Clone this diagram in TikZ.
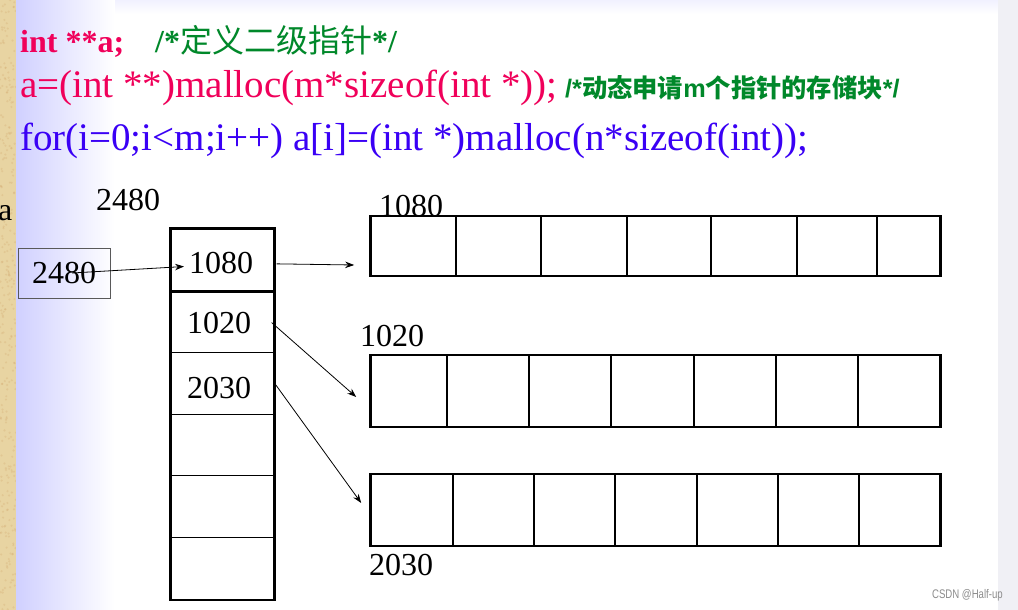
\documentclass[tikz,border=0pt]{standalone}
\usepackage{fontspec}
\setmainfont{Liberation Serif}
\setsansfont{Liberation Sans}
\newfontfamily\cjk{Noto Sans CJK SC}
\usetikzlibrary{arrows.meta,positioning}
\definecolor{codered}{HTML}{F0005A}
\definecolor{codegreen}{HTML}{00882A}
\definecolor{codeblue}{HTML}{3A00F5}
\definecolor{lav}{HTML}{D0D0FF}
\definecolor{sand}{HTML}{E8D4A2}
\definecolor{edgegray}{HTML}{F0F0F5}

\begin{document}
\begin{tikzpicture}[
  x=1pt, y=-1pt,
  >={Stealth[length=9pt,width=6.5pt]},
  code/.style={anchor=base west, inner sep=0pt, font=\fontsize{39}{39}\selectfont},
  note/.style={anchor=base west, inner sep=0pt, text=codegreen},
  num/.style={anchor=base west, inner sep=0pt, font=\fontsize{32}{32}\selectfont},
  colcell/.style={draw, line width=1.2pt, minimum width=103pt, minimum height=61.7pt, inner sep=0pt},
  row/.style={draw, line width=2.6pt, minimum width=570pt, inner sep=0pt},
  divider/.style={line width=1.2pt},
  ptr/.style={->, line width=0.8pt},
]
% background
\useasboundingbox (0,0) rectangle (1018,610);
\fill[white] (0,0) rectangle (1018,610);
\fill[sand] (0,0) rectangle (16,610);
\pgfmathsetseed{7}
\foreach \k in {1,...,300}
  \fill[brown!60!sand, opacity=0.25] ({rnd*16},{rnd*610}) circle (1.2pt);
\shade[left color=lav, right color=white] (16,0) rectangle (115,610);
\shade[top color=lav!30, bottom color=white] (115,0) rectangle (998,14);
\fill[edgegray] (998,0) rectangle (1018,610);

% code lines
\node[code, text=codered, font=\bfseries\fontsize{32}{32}\selectfont] (decl) at (20,53) {int **a;};
\node[note, font=\fontsize{32}{32}\selectfont] (note1) at (155,53)
  {\textbf{/*}{\cjk 定义二级指针}\textbf{*/}};
\node[code, text=codered] (alloc) at (20,97) {a=(int **)malloc(m*sizeof(int *));};
\node[note, font=\sffamily\bfseries\fontsize{25.3}{25.3}\selectfont] (note2) at (565,97)
  {/*{\cjk\bfseries 动态申请}m{\cjk\bfseries 个指针的存储块}*/};
\node[code, text=codeblue] (loop) at (20,150) {for(i=0;i<m;i++) a[i]=(int *)malloc(n*sizeof(int));};

% pointer a
\node[num] (lbla) at (-2,220) {a};
\node[num] (lbl2480) at (96,210) {2480};
\node[draw=black!65, line width=0.8pt, minimum width=92pt, minimum height=50pt, inner sep=0pt,
      font=\fontsize{32}{32}\selectfont] (pa) at (64,273) {2480};

% pointer column
\foreach \i in {1,...,6}
  \node[colcell] (c\i) at (222.5, {259.85+(\i-1)*61.7}) {};
\draw[line width=2.6pt] (c1.north west) rectangle (c6.south east);
\draw[line width=2.6pt] (c1.south west) -- (c1.south east);
\node[num] (v1) at (189,273) {1080};
\node[num] (v2) at (187,333) {1020};
\node[num] (v3) at (187,398) {2030};

% int rows
\node[row, minimum height=60pt] (r1) at (655.5,246) {};
\node[row, minimum height=72pt] (r2) at (655.5,391) {};
\node[row, minimum height=72pt] (r3) at (655.5,510) {};
\foreach \x in {456,541,627,711,797,877}
  \draw[divider] (\x,216) -- (\x,276);
\foreach \x in {447,529,611,694,776,858}
  \draw[divider] (\x,355) -- (\x,427);
\foreach \x in {453,534,615,697,778,859}
  \draw[divider] (\x,474) -- (\x,546);
\node[num] (h1) at (379,216) {1080};
\node[num] (h2) at (360,346) {1020};
\node[num] (h3) at (369,575) {2030};

% arrows
\draw[ptr] ([xshift=8pt]pa.center) -- ([xshift=-5pt,yshift=-4pt]v1.west);
\draw[ptr] ([xshift=2pt,yshift=-4pt]c1.east) -- ([xshift=-15pt,yshift=-19pt]r1.west);
\draw[ptr] ([xshift=-3pt,yshift=-1pt]c2.east) -- ([xshift=-13pt,yshift=-6pt]r2.west);
\draw[ptr] (c3.east) -- ([xshift=-8pt,yshift=7pt]r3.west);

\node[anchor=base east, inner sep=0pt, text=black!45, font=\sffamily\fontsize{12.5}{12.5}\selectfont]
  (mark) at (1003,598) {\scalebox{0.77}[1]{CSDN @Half-up}};
\end{tikzpicture}
\end{document}
